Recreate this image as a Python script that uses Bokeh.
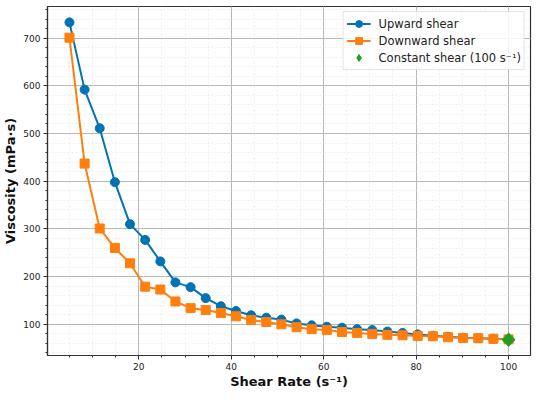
import math
from bokeh.plotting import figure
from bokeh.models import SingleIntervalTicker, Range1d, Legend, LegendItem
from bokeh.embed import file_html
from bokeh.resources import INLINE

shear_rate = [5.0, 8.28, 11.55, 14.83, 18.10, 21.38, 24.66, 27.93, 31.21, 34.48,
              37.76, 41.03, 44.31, 47.59, 50.86, 54.14, 57.41, 60.69, 63.97, 67.24,
              70.52, 73.79, 77.07, 80.34, 83.62, 86.90, 90.17, 93.45, 96.72, 100.0]
upward = [733, 592, 511, 398, 310, 277, 232, 188, 178, 155,
          138, 128, 119, 114, 110, 102, 98, 95, 93, 90,
          88, 85, 82, 79, 76, 74, 72, 71, 70, 69]
downward = [701, 437, 301, 260, 228, 179, 173, 148, 134, 130,
            124, 117, 109, 105, 100, 94, 90, 88, 84, 82,
            80, 78, 77, 75.5, 75, 73, 71.5, 71, 69.6, 68.5]
constant_x = [100.0]
constant_y = [68]

BLUE = "#0173B2"
ORANGE = "#FF7F0E"
GREEN = "#1F9E1F"
FONT = "DejaVu Sans"

p = figure(width=534, height=392, output_backend="svg", toolbar_location=None,
           x_range=Range1d(0.25, 104.75), y_range=Range1d(34.75, 766.25),
           min_border_left=46, min_border_right=4, min_border_top=6, min_border_bottom=37)
p.background_fill_color = "white"
p.border_fill_color = "white"
p.outline_line_color = "#333333"
p.outline_line_width = 1.2

p.xaxis.ticker = SingleIntervalTicker(interval=20, num_minor_ticks=4)
p.yaxis.ticker = SingleIntervalTicker(interval=100, num_minor_ticks=5)
p.xgrid.ticker = p.xaxis.ticker
p.ygrid.ticker = p.yaxis.ticker

for g in (p.xgrid, p.ygrid):
    g.grid_line_color = "#b8b8b8"
    g.grid_line_width = 1
    g.minor_grid_line_color = "#e4e4e4"
    g.minor_grid_line_width = 0.6
    g.minor_grid_line_dash = "2 2"

for ax in (p.xaxis, p.yaxis):
    ax.axis_line_color = "#333333"
    ax.axis_line_width = 1.2
    ax.major_tick_line_color = "#333333"
    ax.minor_tick_line_color = "#333333"
    ax.major_tick_out = 4
    ax.major_tick_in = 0
    ax.minor_tick_out = 2
    ax.minor_tick_in = 0
    ax.major_label_text_font = FONT
    ax.major_label_text_font_size = "9px"
    ax.major_label_text_color = "#222222"
    ax.axis_label_text_font = FONT
    ax.axis_label_text_font_style = "bold"
    ax.axis_label_text_font_size = "13px"
    ax.axis_label_text_color = "#111111"
    ax.major_label_standoff = 3

p.xaxis.axis_label = "Shear Rate (s\u207b\u00b9)"
p.yaxis.axis_label = "Viscosity (mPa\u00b7s)"
p.xaxis.axis_label_standoff = 1
p.yaxis.axis_label_standoff = 2

l1 = p.line(shear_rate, upward, line_color=BLUE, line_width=2)
m1 = p.scatter(shear_rate, upward, marker="circle", size=9, fill_color=BLUE, line_color=BLUE)
l2 = p.line(shear_rate, downward, line_color=ORANGE, line_width=2)
m2 = p.scatter(shear_rate, downward, marker="square", size=9, fill_color=ORANGE, line_color=ORANGE)
# legend glyph (diamond), fully covered by the rotated square drawn on top of it
m3_legend = p.scatter(constant_x, constant_y, marker="diamond", size=13,
                      fill_color=GREEN, line_color=GREEN)
m3 = p.scatter(constant_x, constant_y, marker="square", angle=math.pi / 4, size=9.2,
               fill_color=GREEN, line_color=GREEN)

legend = Legend(items=[
    LegendItem(label="Upward shear", renderers=[l1, m1]),
    LegendItem(label="Downward shear", renderers=[l2, m2]),
    LegendItem(label="Constant shear (100 s\u207b\u00b9)", renderers=[m3_legend]),
], location="top_right")
legend.label_text_font = FONT
legend.label_text_font_size = "11.5px"
legend.label_text_color = "#222222"
legend.border_line_color = "#cccccc"
legend.border_line_width = 1
legend.background_fill_alpha = 0.85
legend.glyph_width = 24
legend.glyph_height = 17
legend.label_height = 14
legend.spacing = 0
legend.padding = 3
legend.margin = 5
legend.label_standoff = 8
p.add_layout(legend)

open("out.html", "w").write(file_html(p, INLINE))
